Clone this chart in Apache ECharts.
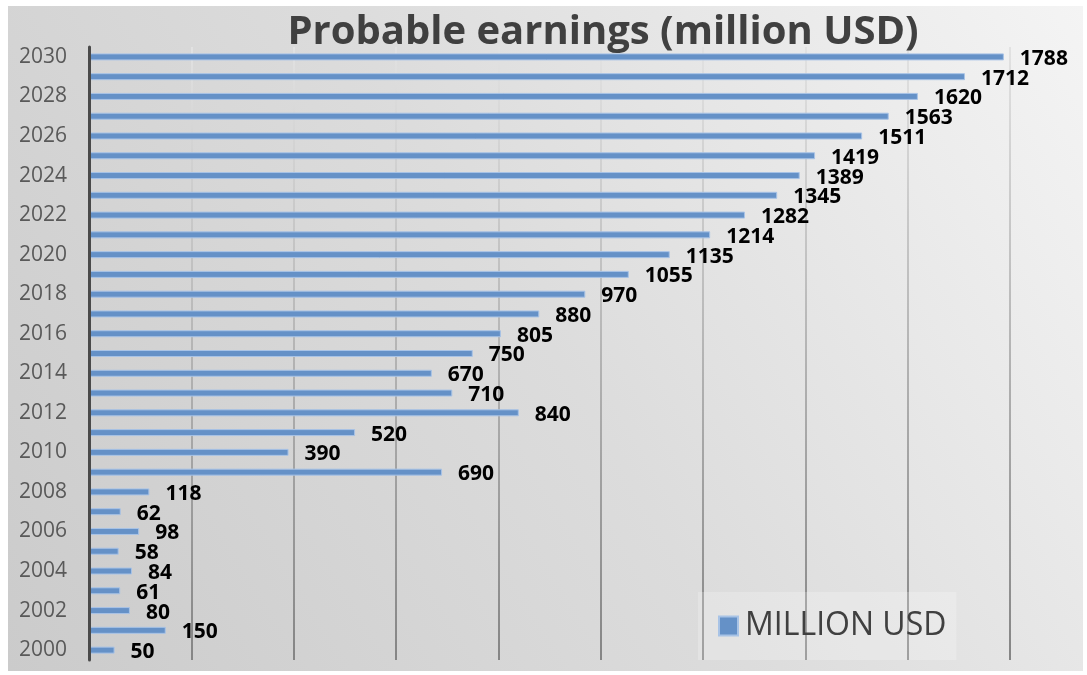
<!DOCTYPE html>
<html>
<head>
<meta charset="utf-8">
<script src="https://cdn.jsdelivr.net/npm/echarts@6/dist/echarts.min.js"></script>
<style>
  html, body { margin: 0; padding: 0; background: #ffffff; }
  #chart { width: 1087px; height: 675px; }
</style>
</head>
<body>
<div id="chart"></div>
<script>
// Years shown on the category axis (bottom to top)
const years = ['2000','2001','2002','2003','2004','2005','2006','2007','2008','2009',
  '2010','2011','2012','2013','2014','2015','2016','2017','2018','2019',
  '2020','2021','2022','2023','2024','2025','2026','2027','2028','2029','2030'];

// Earnings per year, million USD
const earnings = [50,150,80,61,84,58,98,62,118,690,
  390,520,840,710,670,750,805,880,970,1055,
  1135,1214,1282,1345,1389,1419,1511,1563,1620,1712,1788];

const seriesName = 'MILLION USD';
const titleText = 'Probable earnings (million USD)';

const GRID = { left: 89, right: 77, top: 47, bottom: 15 };

const chart = echarts.init(document.getElementById('chart'), null, { renderer: 'canvas' });

chart.setOption({
  backgroundColor: '#ffffff',
  animation: false,
  graphic: [{
    type: 'rect',
    z: -10,
    silent: true,
    shape: { x: 8, y: 6, width: 1075, height: 665 },
    style: {
      fill: {
        type: 'linear', x: 1, y: 0, x2: 0, y2: 1,
        colorStops: [
          { offset: 0, color: '#f4f4f4' },
          { offset: 0.5, color: '#dcdcdc' },
          { offset: 1, color: '#cbcbcb' }
        ]
      }
    }
  }],
  title: {
    text: titleText,
    left: 598,
    textAlign: 'center',
    top: 8,
    textStyle: {
      fontFamily: 'Open Sans',
      fontWeight: 'bold',
      fontSize: 40,
      color: '#404040'
    }
  },
  legend: {
    left: 698,
    top: 592,
    padding: [18, 10, 18, 20],
    backgroundColor: 'rgba(255,255,255,0.22)',
    icon: 'rect',
    itemWidth: 19,
    itemHeight: 19,
    itemGap: 10,
    textStyle: {
      fontFamily: 'Open Sans',
      fontSize: 32,
      color: '#404040',
      padding: [0, 0, 0, 2]
    },
    data: [seriesName]
  },
  grid: GRID,
  xAxis: {
    type: 'value',
    min: 0,
    max: 1800,
    interval: 200,
    axisLine: { show: false },
    axisTick: { show: false },
    axisLabel: { show: false },
    splitLine: {
      show: true,
      lineStyle: {
        width: 2,
        color: {
          type: 'linear', global: true, x: 0, y: 47, x2: 0, y2: 660,
          colorStops: [
            { offset: 0, color: '#e2e2e2' },
            { offset: 1, color: '#858585' }
          ]
        }
      }
    }
  },
  yAxis: {
    type: 'category',
    data: years,
    z: 5,
    axisLine: { show: true, lineStyle: { color: '#4a4a4a', width: 3 } },
    axisTick: { show: false },
    axisLabel: {
      interval: 1,
      margin: 22,
      padding: [4, 0, 0, 0],
      fontFamily: 'Open Sans',
      fontSize: 21,
      color: '#595959'
    }
  },
  series: [{
    name: seriesName,
    type: 'bar',
    data: earnings,
    barWidth: 7,
    itemStyle: {
      color: '#6591c7',
      borderColor: '#a8c3e6',
      borderWidth: 1
    },
    label: {
      show: true,
      position: 'right',
      distance: 16,
      offset: [0, 2],
      fontFamily: 'Open Sans',
      fontWeight: 'bold',
      fontSize: 21,
      color: '#000000'
    }
  }]
});
</script>
</body>
</html>
